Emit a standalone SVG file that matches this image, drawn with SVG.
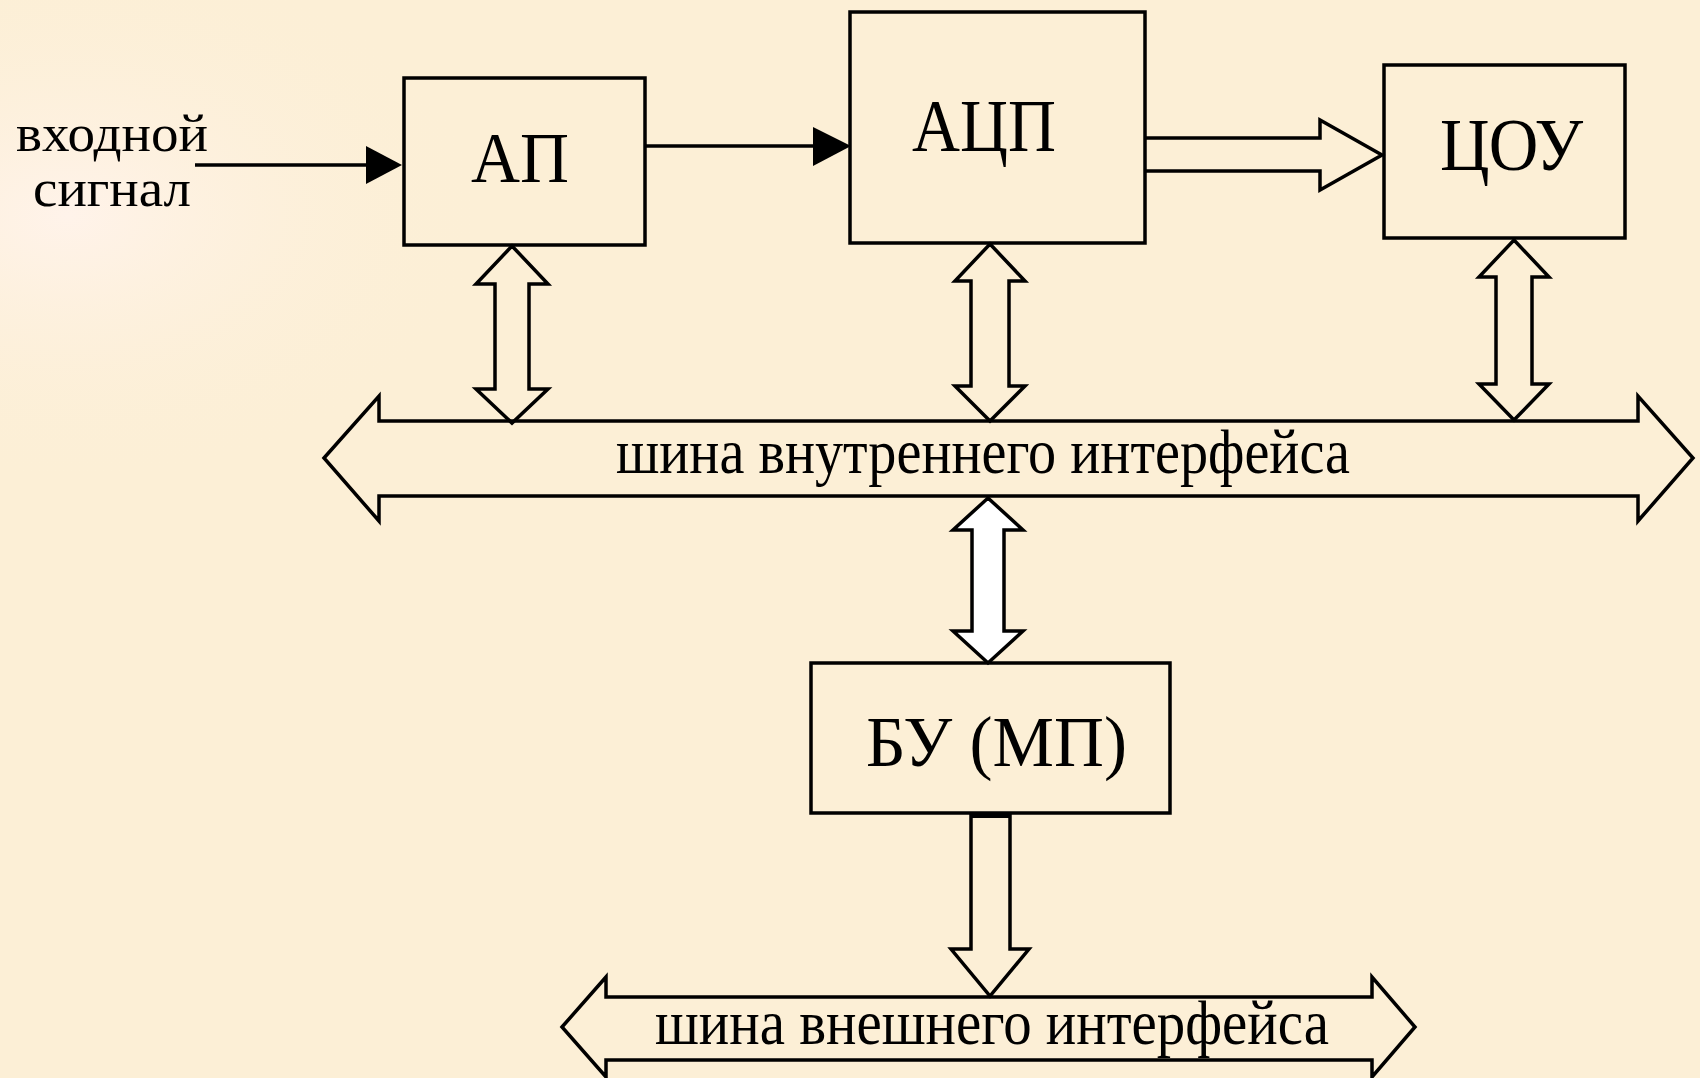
<svg xmlns="http://www.w3.org/2000/svg" width="1700" height="1078" viewBox="0 0 1700 1078">
<defs>
<style>
.box{fill:none;stroke:#000;stroke-width:3.5}
.ln{fill:none;stroke:#000;stroke-width:3.5}
.hollow{fill:none;stroke:#000;stroke-width:3.5;stroke-linejoin:miter}
.solid{fill:#000;stroke:none}
.t{font-family:"Liberation Serif","Times New Roman",serif;fill:#000}
</style>
<radialGradient id="bgpatch" cx="0.04" cy="0.2" r="0.25">
<stop offset="0" stop-color="#FFF3EA"/>
<stop offset="1" stop-color="#FCEFD6" stop-opacity="0"/>
</radialGradient>
</defs>
<rect x="0" y="0" width="1700" height="1078" fill="#FCEFD6"/>
<rect x="0" y="0" width="1700" height="1078" fill="url(#bgpatch)"/>

<g id="connectors">
<!-- input arrow -->
<line class="ln" x1="195" y1="165" x2="368" y2="165"/>
<polygon class="solid" points="366,146 402,165 366,184"/>
<!-- AP -> ADC -->
<line class="ln" x1="645" y1="146" x2="815" y2="146"/>
<polygon class="solid" points="813,127 851,146 813,166"/>
<!-- ADC -> DPU wide arrow -->
<path class="hollow" d="M1145,138 H1320 V120 L1382,155 L1320,190 V171 H1145"/>
<!-- AP <-> bus -->
<path class="hollow" d="M512,246 L548,284 L529,284 L529,389 L548,389 L512,423 L476,389 L495,389 L495,284 L476,284 Z"/>
<!-- ADC <-> bus -->
<path class="hollow" d="M990,244 L1025,281 L1009,281 L1009,386 L1025,386 L990,421 L955,386 L971,386 L971,281 L955,281 Z"/>
<!-- DPU <-> bus -->
<path class="hollow" d="M1514,240 L1549,277 L1532,277 L1532,384 L1549,384 L1514,420 L1479,384 L1496,384 L1496,277 L1479,277 Z"/>
<!-- internal bus -->
<path class="hollow" d="M324,458 L379,396 L379,421 L1638,421 L1638,396 L1693,458 L1638,521 L1638,496 L379,496 L379,521 Z"/>
<!-- bus <-> control unit -->
<path d="M988,498 L1023,530 L1004,530 L1004,631 L1023,631 L988,663 L953,631 L972,631 L972,530 L953,530 Z" fill="#FFFFFF" stroke="#000" stroke-width="3.5"/>
<!-- control unit -> external bus -->
<path class="hollow" d="M971,813 V949 H951 L990,996 L1029,949 H1010 V813"/>
<line x1="971" y1="815" x2="1010" y2="815" stroke="#000" stroke-width="6"/>
<!-- external bus -->
<path class="hollow" d="M562,1027 L606,977 L606,997 L1372,997 L1372,977 L1415,1027 L1372,1077 L1372,1060 L606,1060 L606,1077 Z"/>
</g>

<g id="input-label">
<text class="t" x="16" y="151" font-size="52" textLength="192" lengthAdjust="spacingAndGlyphs">входной</text>
<text class="t" x="33" y="206" font-size="52" textLength="158" lengthAdjust="spacingAndGlyphs">сигнал</text>
</g>

<g id="node-ap">
<rect class="box" x="404" y="78" width="241" height="167"/>
<text class="t" x="471" y="182" font-size="72" textLength="98" lengthAdjust="spacingAndGlyphs">АП</text>
</g>

<g id="node-adc">
<rect class="box" x="850" y="12" width="295" height="231"/>
<text class="t" x="912" y="151" font-size="75" textLength="144" lengthAdjust="spacingAndGlyphs">АЦП</text>
</g>

<g id="node-dpu">
<rect class="box" x="1384" y="65" width="241" height="173"/>
<text class="t" x="1440" y="170" font-size="75" textLength="143" lengthAdjust="spacingAndGlyphs">ЦОУ</text>
</g>

<g id="node-cu">
<rect class="box" x="811" y="663" width="359" height="150"/>
<text class="t" x="866" y="766" font-size="72" textLength="261" lengthAdjust="spacingAndGlyphs">БУ (МП)</text>
</g>

<g id="bus-internal-label">
<text class="t" x="616" y="473" font-size="64" textLength="734" lengthAdjust="spacingAndGlyphs">шина внутреннего интерфейса</text>
</g>

<g id="bus-external-label">
<text class="t" x="655" y="1044" font-size="64" textLength="674" lengthAdjust="spacingAndGlyphs">шина внешнего интерфейса</text>
</g>
</svg>
